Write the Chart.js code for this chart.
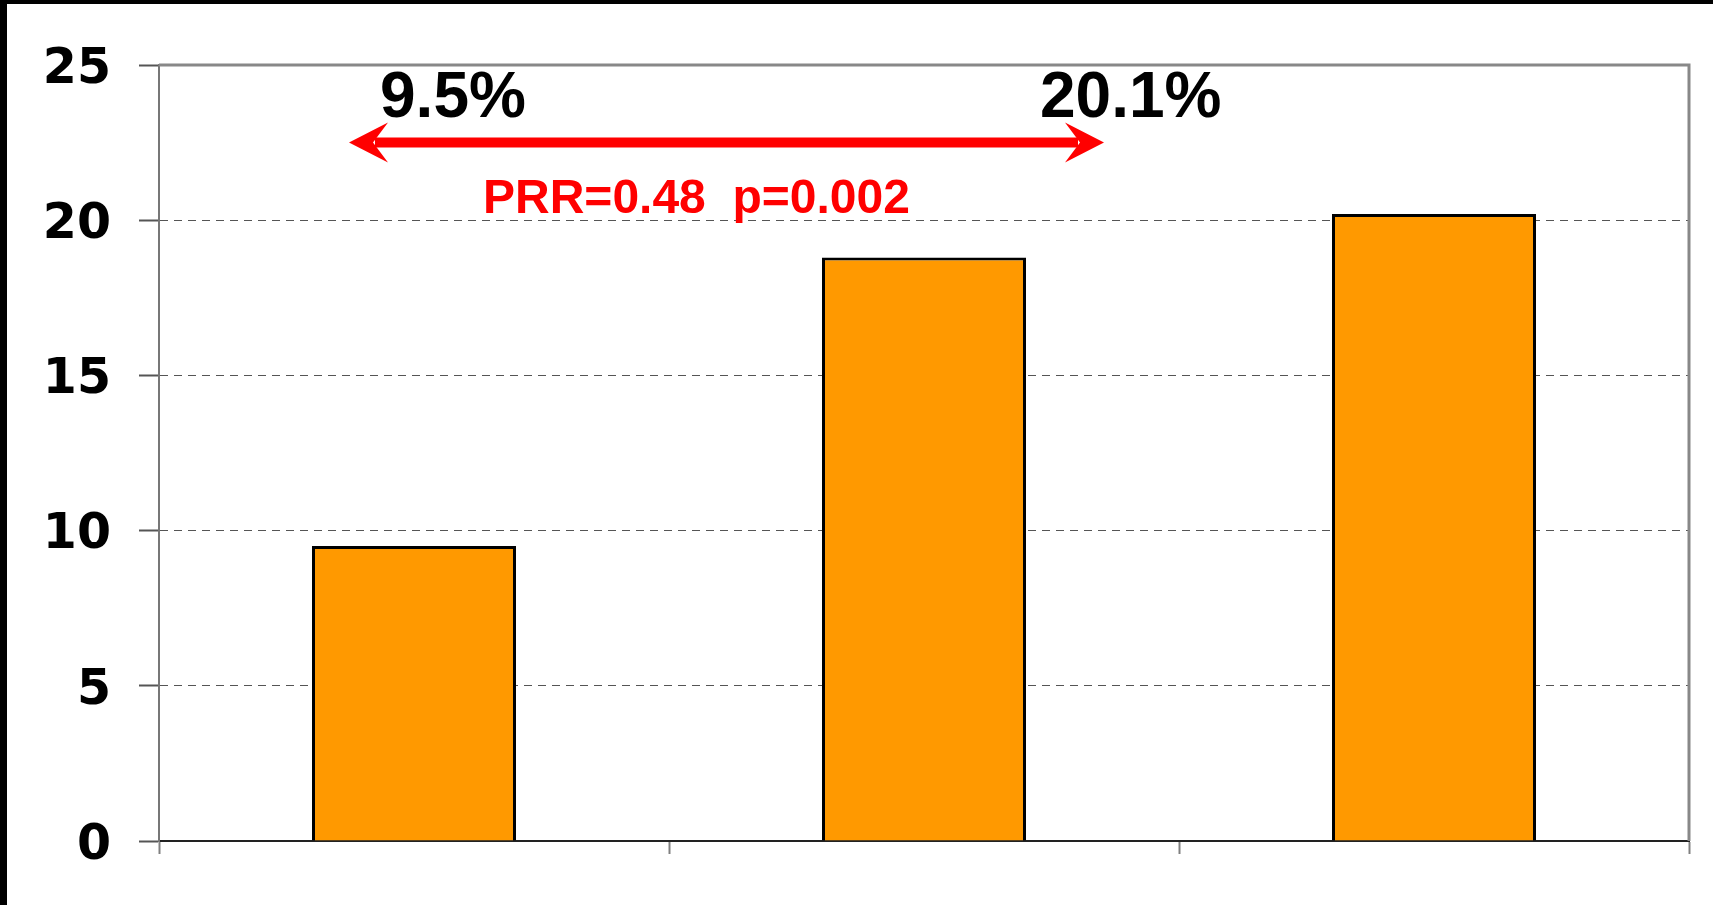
<!DOCTYPE html>
<html>
<head>
<meta charset="utf-8">
<script src="https://cdn.jsdelivr.net/npm/chart.js@4.4.0/dist/chart.umd.min.js"></script>
<style>
  html, body { margin: 0; padding: 0; background: #ffffff; }
  #wrap { position: relative; width: 1713px; height: 905px; }
</style>
</head>
<body>
<div id="wrap"><canvas id="c" width="1713" height="905"></canvas></div>
<script>
// ---- data ----
const categories = ['', '', ''];
const values = [9.5, 18.8, 20.2];
const yTicks = [0, 5, 10, 15, 20, 25];
const leftLabel = '9.5%';
const rightLabel = '20.1%';
const statLabel = 'PRR=0.48  p=0.002';

const annotationPlugin = {
  id: 'annot',
  beforeDraw(chart) {
    const ctx = chart.ctx;
    ctx.save();
    ctx.fillStyle = '#ffffff';
    ctx.fillRect(0, 0, chart.width, chart.height);
    ctx.restore();
  },
  afterDraw(chart) {
    const ctx = chart.ctx;
    const ca = chart.chartArea;
    const y = chart.scales.y;
    ctx.save();
    // plot frame top and right
    ctx.strokeStyle = '#888888';
    ctx.lineWidth = 3;
    ctx.beginPath();
    ctx.moveTo(ca.left, ca.top);
    ctx.lineTo(ca.right, ca.top);
    ctx.lineTo(ca.right, ca.bottom);
    ctx.stroke();

    // arrow
    const ay = y.getPixelForValue(22.5);
    const xl = 349, xr = 1104;
    ctx.fillStyle = '#ff0000';
    ctx.strokeStyle = '#ff0000';
    ctx.lineWidth = 10;
    ctx.beginPath();
    ctx.moveTo(xl + 26, ay);
    ctx.lineTo(xr - 26, ay);
    ctx.stroke();
    ctx.beginPath();
    ctx.moveTo(xl, ay);
    ctx.lineTo(xl + 39, ay - 20);
    ctx.lineTo(xl + 24, ay);
    ctx.lineTo(xl + 39, ay + 20);
    ctx.closePath();
    ctx.fill();
    ctx.beginPath();
    ctx.moveTo(xr, ay);
    ctx.lineTo(xr - 39, ay - 20);
    ctx.lineTo(xr - 24, ay);
    ctx.lineTo(xr - 39, ay + 20);
    ctx.closePath();
    ctx.fill();

    // texts
    ctx.textBaseline = 'alphabetic';
    ctx.textAlign = 'left';
    ctx.fillStyle = '#000000';
    ctx.font = 'bold 64px "Liberation Sans", Arial, sans-serif';
    ctx.fillText(leftLabel, 380, 117);
    ctx.fillText(rightLabel, 1040, 117);
    ctx.fillStyle = '#ff0000';
    ctx.font = 'bold 48px "Liberation Sans", Arial, sans-serif';
    ctx.fillText(statLabel, 483, 213);

    // black frame edges
    ctx.fillStyle = '#000000';
    ctx.fillRect(0, 0, chart.width, 4);
    ctx.fillRect(0, 0, 7, chart.height);
    ctx.restore();
  }
};

new Chart(document.getElementById('c'), {
  type: 'bar',
  data: {
    labels: categories,
    datasets: [{
      data: values,
      backgroundColor: '#FF9900',
      borderColor: '#000000',
      borderWidth: 3,
      barPercentage: 1.0,
      categoryPercentage: 0.4
    }]
  },
  options: {
    responsive: false,
    animation: false,
    devicePixelRatio: 1,
    layout: { padding: { top: 65, right: 24, bottom: 51, left: 0 } },
    plugins: { legend: { display: false }, tooltip: { enabled: false } },
    scales: {
      x: {
        grid: {
          offset: true,
          drawOnChartArea: false,
          drawTicks: true,
          tickLength: 13,
          tickColor: '#808080',
          tickWidth: 2,
          color: '#808080'
        },
        border: { display: true, color: '#222222', width: 2 },
        ticks: { display: false },
        afterFit(scale) { scale.height = 13; }
      },
      y: {
        min: 0,
        max: 25,
        afterBuildTicks(scale) { scale.ticks = yTicks.map(v => ({ value: v })); },
        ticks: {
          color: '#000000',
          padding: 28,
          labelOffset: 5,
          font: { family: '"DejaVu Sans", Verdana, sans-serif', weight: 'bold', size: 49 }
        },
        grid: {
          color: (c) => (c.tick && (c.tick.value === 0 || c.tick.value === 25)) ? 'rgba(0,0,0,0)' : '#555555',
          lineWidth: 1,
          tickLength: 20,
          tickColor: '#555555',
          tickWidth: 2
        },
        border: { display: true, color: '#777777', width: 2, dash: [8, 6] },
        afterFit(scale) { scale.width = 159; }
      }
    }
  },
  plugins: [annotationPlugin]
});
</script>
</body>
</html>
